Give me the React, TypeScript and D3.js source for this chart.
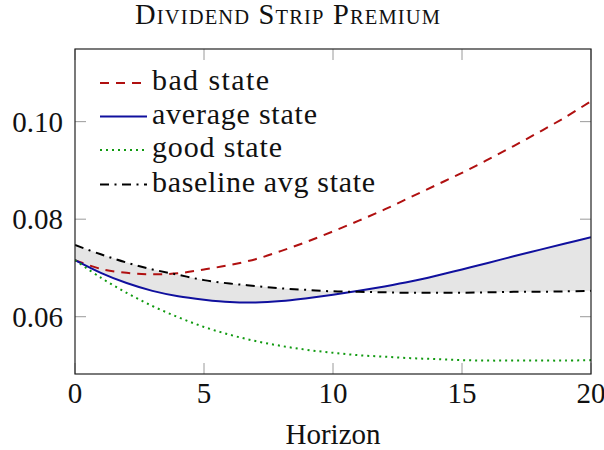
import React from "react";
import * as d3 from "d3";

const horizons = [0, 1, 2, 3, 4, 5, 6, 7, 8, 9, 10, 11, 12, 13, 14, 15, 16, 17, 18, 19, 20];
const badState = [0.0716, 0.0698, 0.0690, 0.0687, 0.0689, 0.0697, 0.0706, 0.0718, 0.0735, 0.0754, 0.0775, 0.0797, 0.0820, 0.0845, 0.0870, 0.0895, 0.0922, 0.0950, 0.0979, 0.1009, 0.1042];
const averageState = [0.0716, 0.0690, 0.0669, 0.0653, 0.0642, 0.0635, 0.0630, 0.0629, 0.0632, 0.0638, 0.0645, 0.0653, 0.0662, 0.0672, 0.0684, 0.0697, 0.0710, 0.0724, 0.0737, 0.0750, 0.0763];
const goodState = [0.0716, 0.0680, 0.0649, 0.0622, 0.0599, 0.0579, 0.0563, 0.0550, 0.0540, 0.0532, 0.0526, 0.0521, 0.0518, 0.0515, 0.0513, 0.0511, 0.0510, 0.0510, 0.0510, 0.0510, 0.0511];
const baselineAvg = [0.0747, 0.0728, 0.0711, 0.0697, 0.0686, 0.0675, 0.0668, 0.0663, 0.0658, 0.0655, 0.0652, 0.0651, 0.0650, 0.0649, 0.0649, 0.0649, 0.0650, 0.0651, 0.0651, 0.0652, 0.0653];

const xTicks = [0, 5, 10, 15, 20];
const yTicks = [0.06, 0.08, 0.1];
const yTickLabels = ["0.06", "0.08", "0.10"];
const legendLabels = ["bad state", "average state", "good state", "baseline avg state"];
const title = "Dividend Strip Premium";
const xLabel = "Horizon";

const FONT = "Liberation Serif, DejaVu Serif, serif";

export default function App() {
  const L = 75, R = 591, T = 49, B = 374;
  const x = d3.scaleLinear().domain([0, 20]).range([L, R]);
  const y = d3.scaleLinear().domain([0.04825, 0.1149]).range([B, T]);

  const line = (vals: number[]) =>
    d3.line<number>().x((_, i) => x(horizons[i])).y((v) => y(v)).curve(d3.curveCatmullRom)(vals) || "";

  const area = d3
    .area<number>()
    .x((d) => x(d))
    .y0((_, i) => y(baselineAvg[i]))
    .y1((_, i) => y(averageState[i]))
    .curve(d3.curveCatmullRom)(horizons) || "";

  const series = [
    { vals: badState, color: "#b01010", dash: "9,7", width: 2 },
    { vals: averageState, color: "#10109e", dash: "", width: 2 },
    { vals: goodState, color: "#109a10", dash: "2,4", width: 2 },
    { vals: baselineAvg, color: "#000000", dash: "9,5.5,2,5.5", width: 2 },
  ];

  const legendBase = [90, 123.5, 157, 191.5];
  const legendWidths = [117, 165, 130, 223];
  const tickLen = 11;

  const titleParts: { t: string; big: boolean }[] = [];
  title.split(" ").forEach((w, i) => {
    titleParts.push({ t: (i > 0 ? " " : "") + w[0].toUpperCase(), big: true });
    titleParts.push({ t: w.slice(1).toUpperCase(), big: false });
  });

  return (
    <svg width={604} height={450} style={{ position: "absolute", left: 0, top: 0, background: "#fff", fontFamily: FONT }}>
      <defs>
        <clipPath id="plotclip">
          <rect x={L} y={T} width={R - L} height={B - T} />
        </clipPath>
      </defs>
      <text x={135} y={23.5} textAnchor="start" fill="#111" textLength={305} lengthAdjust="spacing" style={{ fontFamily: FONT }}>
        {titleParts.map((p, i) => (
          <tspan key={i} fontSize={p.big ? 28.5 : 20.5}>{p.t}</tspan>
        ))}
      </text>

      <g clipPath="url(#plotclip)">
        <path d={area} fill="#e5e5e5" stroke="none" />
        {series.map((s, i) => (
          <path key={i} d={line(s.vals)} fill="none" stroke={s.color} strokeWidth={s.width} strokeDasharray={s.dash || undefined} />
        ))}
      </g>

      {xTicks.map((t) => (
        <g key={"xt" + t} stroke="#9a9a9a" strokeWidth={1}>
          <line x1={x(t)} x2={x(t)} y1={B} y2={B - tickLen} />
          <line x1={x(t)} x2={x(t)} y1={T} y2={T + tickLen} />
        </g>
      ))}
      {yTicks.map((t) => (
        <g key={"yt" + t} stroke="#9a9a9a" strokeWidth={1}>
          <line x1={L} x2={L + tickLen} y1={y(t)} y2={y(t)} />
          <line x1={R} x2={R - tickLen} y1={y(t)} y2={y(t)} />
        </g>
      ))}
      <rect x={L} y={T} width={R - L} height={B - T} fill="none" stroke="#222" strokeWidth={1.2} />

      {xTicks.map((t) => (
        <text key={"xl" + t} x={x(t)} y={403} textAnchor="middle" fontSize={29} fill="#111" style={{ fontFamily: FONT }}>
          {t}
        </text>
      ))}
      {yTicks.map((t, i) => (
        <text key={"yl" + t} x={63} y={y(t) + 10} textAnchor="end" fontSize={29} fill="#111" style={{ fontFamily: FONT }}>
          {yTickLabels[i]}
        </text>
      ))}
      <text x={333} y={444} textAnchor="middle" fontSize={29} fill="#111" style={{ fontFamily: FONT }}>
        {xLabel}
      </text>

      {legendLabels.map((lab, i) => {
        const s = series[i];
        const by = legendBase[i];
        return (
          <g key={"lg" + i}>
            <line x1={100} x2={147} y1={by - 7} y2={by - 7} stroke={s.color} strokeWidth={s.width} strokeDasharray={s.dash || undefined} />
            <text x={152} y={by} fontSize={30} fill="#111" textLength={legendWidths[i]} lengthAdjust="spacing" style={{ fontFamily: FONT }}>
              {lab}
            </text>
          </g>
        );
      })}
    </svg>
  );
}
